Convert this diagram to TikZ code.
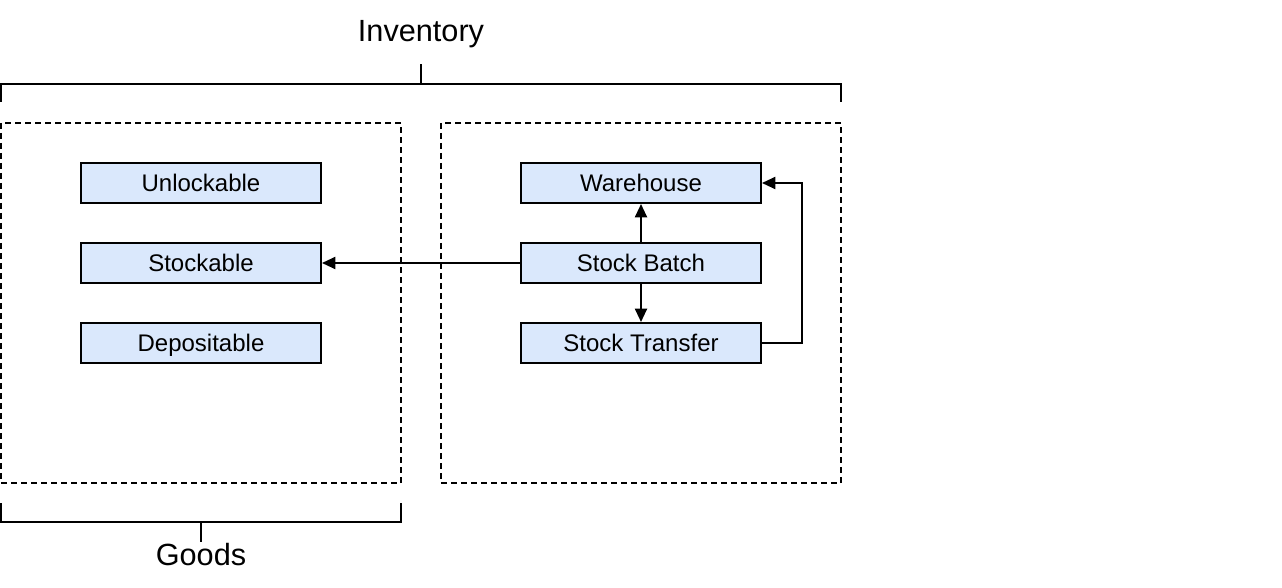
\documentclass[tikz,border=0pt]{standalone}
\usepackage{fontspec}
\setmainfont{Liberation Sans}
\usetikzlibrary{arrows.meta}
\definecolor{boxfill}{HTML}{DAE8FC}
\tikzset{
  cls/.style={draw=black, fill=boxfill, line width=1.5pt, minimum width=240*0.75pt, minimum height=40*0.75pt, inner sep=0pt, text height=13pt, text depth=0pt, font=\fontsize{18}{20}\selectfont},
  grp/.style={draw=black, dashed, dash pattern=on 4.5pt off 3pt, line width=1.5pt},
  brk/.style={draw=black, line width=1.5pt},
  conn/.style={draw=black, line width=1.5pt, -{Triangle[length=10pt,width=9pt]}},
  lbl/.style={font=\fontsize{23}{26}\selectfont, inner sep=0pt, anchor=base}
}
\begin{document}
\begin{tikzpicture}[x=0.75pt, y=-0.75pt]
\useasboundingbox (0,0) rectangle (1282,588);
% groups
\draw[grp] (1,123) rectangle (401,483);
\draw[grp] (441,123) rectangle (841,483);
% inventory bracket
\draw[brk] (1,102) -- (1,84) -- (841,84) -- (841,102);
\coordinate (invtop) at (421,64);
\draw[brk] (421,84) -- (invtop);
\node[lbl] (inv) at (421,42) {Inventory};
% goods bracket
\draw[brk] (1,503) -- (1,522) -- (401,522) -- (401,503);
\coordinate (goodsbot) at (201,542);
\draw[brk] (201,522) -- (goodsbot);
\node[lbl] (goods) at (201,565) {Goods};
% boxes
\node[cls] (unl) at (201,183) {Unlockable};
\node[cls] (stk) at (201,263) {Stockable};
\node[cls] (dep) at (201,343) {Depositable};
\node[cls] (wh) at (641,183) {Warehouse};
\node[cls] (sb) at (641,263) {Stock Batch};
\node[cls] (st) at (641,343) {Stock Transfer};
% connectors
\draw[conn] (sb.west) -- (stk.east);
\draw[conn] (sb.north) -- (wh.south);
\draw[conn] (sb.south) -- (st.north);
\draw[conn] (st.east) -- ++(40,0) |- (wh.east);
\end{tikzpicture}
\end{document}
